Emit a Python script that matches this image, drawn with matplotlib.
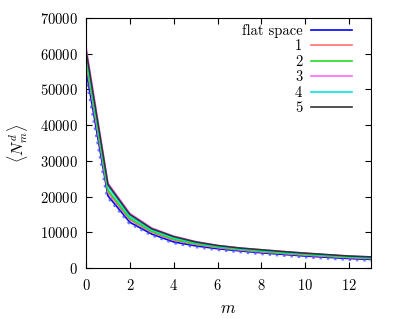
import matplotlib
matplotlib.use('Agg')
import matplotlib.pyplot as plt

plt.rcParams['font.family'] = ['cmr10', 'DejaVu Serif']
plt.rcParams['mathtext.fontset'] = 'cm'
plt.rcParams['axes.formatter.use_mathtext'] = True

m = [0, 1, 2, 3, 4, 5, 6, 7, 8, 9, 10, 11, 12, 13]

flat = [55500, 20200, 12800, 9500, 7300, 6200, 5400, 4800, 4250, 3800, 3350, 3000, 2650, 2400]
s1 = [57500, 21200, 13500, 10000, 7800, 6600, 5700, 5050, 4500, 4050, 3600, 3250, 2900, 2650]
s2 = [58500, 21800, 13900, 10300, 8100, 6800, 5900, 5250, 4700, 4200, 3800, 3400, 3050, 2800]
s3 = [62000, 23800, 15300, 11200, 8900, 7400, 6300, 5600, 5100, 4600, 4150, 3700, 3300, 3100]
s4 = [60000, 22800, 14500, 10700, 8500, 7100, 6100, 5400, 4900, 4400, 4000, 3600, 3200, 2950]
s5 = [61000, 23400, 15000, 11000, 8800, 7300, 6300, 5600, 5100, 4600, 4150, 3750, 3350, 3100]

labels = ['flat space', '1', '2', '3', '4', '5']
colors = ['#0000ff', '#ff7070', '#22dd22', '#ff66ff', '#00e5e5', '#333333']

fig = plt.figure(figsize=(3.99, 3.19), dpi=100)
ax = fig.add_axes([86 / 399, 51 / 319, 285 / 399, 250 / 319])

ax.plot(m, flat, color=colors[0], lw=1.2, label=labels[0])
ax.plot(m, flat, color='#3344ff', lw=3.5, ls=(0, (0.5, 1.0)), alpha=0.7)
for vals, lab, col in zip([s1, s2, s3, s4, s5], labels[1:], colors[1:]):
    ax.plot(m, vals, color=col, lw=1.2, label=lab)

ax.set_xlim(0, 13)
ax.set_ylim(0, 70000)
ax.set_xticks([0, 2, 4, 6, 8, 10, 12])
ax.set_yticks(range(0, 70001, 10000))
ax.tick_params(direction='in', top=True, right=True, length=4, labelsize=10.5)
ax.tick_params(axis='y', pad=6)
ax.tick_params(axis='x', pad=7)
ax.set_xlabel(r'$m$', fontsize=12, labelpad=6)
ax.set_ylabel(r'$\langle N_m^d\rangle$', fontsize=11.5, labelpad=7)

leg = ax.legend(loc='upper right', frameon=False, markerfirst=False, fontsize=10.5,
                handlelength=2.8, handletextpad=0.6, labelspacing=0.12,
                borderaxespad=0.0, borderpad=0.0, bbox_to_anchor=(1 - 19 / 285, 1 - 6 / 250))

fig.savefig('out.png', dpi=100)
